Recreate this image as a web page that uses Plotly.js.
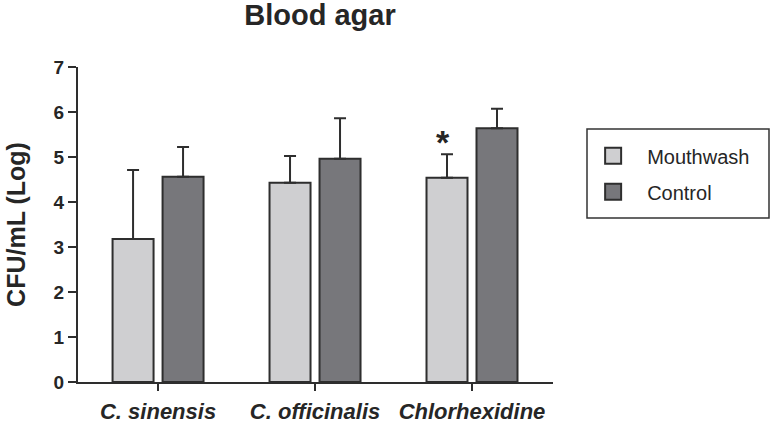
<!DOCTYPE html>
<html>
<head>
<meta charset="utf-8">
<script src="https://cdn.plot.ly/plotly-3.0.1.min.js"></script>
<style>html,body{margin:0;padding:0;background:#fff;}#chart{width:771px;height:423px;}</style>
</head>
<body>
<div id="chart"></div>
<script>
const categories = ["C. sinensis", "C. officinalis", "Chlorhexidine"];
const mouthwash = [3.18, 4.43, 4.54];
const mouthwashErr = [1.53, 0.59, 0.52];
const control = [4.56, 4.96, 5.64];
const controlErr = [0.66, 0.90, 0.43];
const yTicks = [0, 1, 2, 3, 4, 5, 6, 7];
const seriesNames = ["Mouthwash", "Control"];
const lightColor = "#cfcfd1";
const darkColor = "#77777b";
const edge = "#2e2e2e";
const catLabels = categories.map(c => "<i><b>" + c + "</b></i>");

function barTrace(name, vals, errs, color) {
  return {
    type: "bar", name: name, x: categories, y: vals,
    marker: {color: color, line: {color: edge, width: 2}},
    error_y: {type: "data", array: errs, arrayminus: errs.map(() => 0), symmetric: false,
              color: edge, thickness: 2, width: 6},
    showlegend: false, hoverinfo: "skip"
  };
}
function legendTrace(name, color, group) {
  return {
    type: "scatter", mode: "markers", name: name, x: [null], y: [null],
    marker: {symbol: "square", size: 16, color: color, line: {color: edge, width: 2}},
    legendgroup: group, showlegend: true
  };
}

const data = [
  barTrace(seriesNames[0], mouthwash, mouthwashErr, lightColor),
  barTrace(seriesNames[1], control, controlErr, darkColor),
  legendTrace(seriesNames[0], lightColor, "a"),
  legendTrace(seriesNames[1], darkColor, "b")
];

const font = "'Liberation Sans', Arial, sans-serif";
const txt = "#262626";
const layout = {
  width: 771, height: 423,
  margin: {l: 78, r: 218, t: 67, b: 41},
  paper_bgcolor: "#fff", plot_bgcolor: "#fff",
  font: {family: font, color: txt},
  title: {text: "<b>Blood agar</b>", font: {size: 29, family: font, color: txt},
          x: 320 / 771, xanchor: "center", y: 1 - 15 / 423, yanchor: "middle"},
  barmode: "group", bargap: 0.363, bargroupgap: 0.18,
  xaxis: {
    range: [-0.51, 2.516], tickmode: "array", tickvals: categories, ticktext: catLabels,
    showline: true, linecolor: edge, linewidth: 2, ticks: "outside", ticklen: 7,
    tickwidth: 2, tickcolor: edge, showgrid: false, zeroline: false, fixedrange: true,
    tickfont: {size: 22, family: font, color: txt}, ticklabelstandoff: 2
  },
  yaxis: {
    range: [0, 7], tickvals: yTicks, ticktext: yTicks.map(v => "<b>" + v + "</b>"),
    showline: true, linecolor: edge, linewidth: 2, ticks: "outside", ticklen: 8,
    tickwidth: 2, tickcolor: edge, showgrid: false, zeroline: false, fixedrange: true,
    tickfont: {size: 19, family: font, color: txt},
    title: {text: "<b>CFU/mL (Log)</b>", font: {size: 25, family: font, color: txt}, standoff: 21}
  },
  legend: {
    x: 1.055, y: 0.78, xanchor: "left", yanchor: "top",
    bgcolor: "rgba(0,0,0,0)", borderwidth: 0,
    font: {size: 20, family: font, color: txt},
    traceorder: "grouped", tracegroupgap: 7, itemwidth: 58
  },
  shapes: [{
    type: "rect", xref: "paper", yref: "paper",
    x0: (587 - 78) / 475, x1: (769 - 78) / 475,
    y0: (382 - 218) / 315, y1: (382 - 129) / 315,
    line: {color: "#333", width: 1.5}, fillcolor: "rgba(0,0,0,0)"
  }],
  annotations: [{
    x: categories[2], y: 5.43, xref: "x", yref: "y", xshift: -29,
    text: "<b>*</b>", showarrow: false, font: {size: 34, family: font, color: txt},
    yanchor: "middle", yshift: -4
  }]
};

Plotly.newPlot("chart", data, layout, {displayModeBar: false, staticPlot: true});
</script>
</body>
</html>
